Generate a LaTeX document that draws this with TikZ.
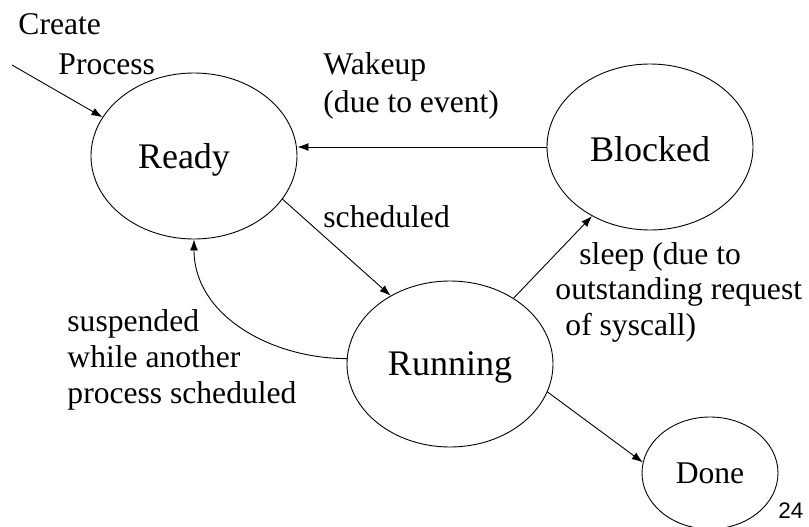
\documentclass[tikz,border=0pt]{standalone}
\usepackage{fontspec}
\setmainfont{Liberation Serif}
\newfontfamily\numfont{Liberation Sans}
\usetikzlibrary{shapes.geometric,arrows.meta}

\def\statefont{\fontsize{36}{43}\selectfont}
\def\lblfont{\fontsize{31.6}{37}\selectfont}

\tikzset{
	state/.style={draw,ellipse,inner sep=0pt,text depth=0pt,minimum width=206pt,minimum height=166pt,font=\statefont},
	lbl/.style={anchor=base west,inner sep=0pt,font=\lblfont},
}

\begin{document}
\begin{tikzpicture}[>={Latex[length=11pt,width=8pt]},x=1pt,y=-1pt,line width=0.9pt]
\useasboundingbox (0,0) rectangle (809,527);
\node[state] (ready) at (194,156) {Ready\hspace*{20pt}};
\node[state] (blocked) at (650,147) {\raisebox{-4pt}{Blocked}};
\node[state] (running) at (450,364) {Running};
\node[state,minimum width=136pt,minimum height=112pt,font=\lblfont] (done) at (710,473) {Done};
\coordinate (src) at (12,65);
\draw[->] (src) -- (ready.157);
\draw[->] (blocked.west) -- (ready.east |- blocked.west);
\draw[->] (ready.-26) -- (running.131);
\draw[->] (running.46) -- (blocked.-130);
\draw[->] (running.177) to[out=180,in=-90] (ready.south);
\draw[->] (running.-16) -- (done.171);
\node[lbl] (create) at (18,35) {Create};
\node[lbl] (process) at (58,75) {Process};
\node[lbl] (wakeup) at (323,75) {Wakeup};
\node[lbl] (event) at (323,112) {(due to event)};
\node[lbl] (sched) at (323,227) {scheduled};
\node[lbl] (sleep) at (579,264) {sleep (due to};
\node[lbl] (request) at (555,299) {outstanding request};
\node[lbl] (syscall) at (565,335) {of syscall)};
\node[lbl] (susp) at (67,331) {suspended};
\node[lbl] (another) at (67,367) {while another};
\node[lbl] (procsched) at (67,403) {process scheduled};
\node[anchor=base west,inner sep=0pt,font=\numfont\fontsize{22.5}{27}\selectfont] (page) at (778,518) {24};
\end{tikzpicture}
\end{document}
